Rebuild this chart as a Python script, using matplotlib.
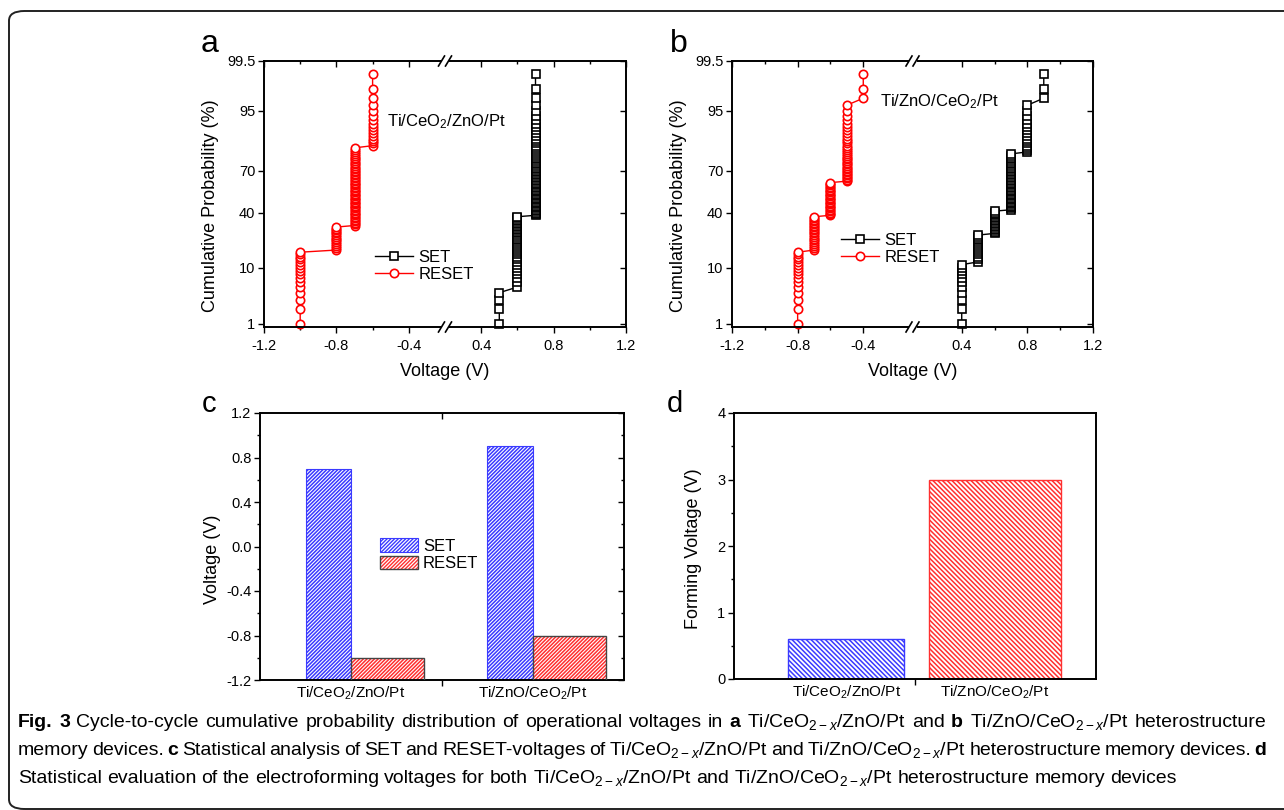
import math
import numpy as np
import matplotlib
matplotlib.use("Agg")
import matplotlib.pyplot as plt
from matplotlib import font_manager
from matplotlib.patches import Rectangle, Patch, FancyBboxPatch
from matplotlib.lines import Line2D
from matplotlib.ticker import FixedLocator, NullLocator

W, H = 1284, 810

# ---- data -------------------------------------------------------------
# panel a: voltage levels and number of cycles switching at that level
a_set_v = [0.5, 0.6, 0.7]
a_set_n = [4, 33, 62]
a_reset_v = [-1.0, -0.8, -0.7, -0.6]
a_reset_n = [16, 14, 53, 16]
# panel b
b_set_v = [0.4, 0.5, 0.6, 0.7, 0.8, 0.9]
b_set_n = [11, 14, 16, 39, 16, 3]
b_reset_v = [-0.8, -0.7, -0.6, -0.5, -0.4]
b_reset_n = [16, 21, 25, 34, 3]
# panels c, d
devices = ['Ti/CeO$_2$/ZnO/Pt', 'Ti/ZnO/CeO$_2$/Pt']
set_voltage = [0.7, 0.9]
reset_voltage = [-1.0, -0.8]
forming_voltage = [0.6, 3.0]

prob_ticks = [1, 10, 40, 70, 95, 99.5]
volt_ticks = [-1.2, -0.8, -0.4, 0.4, 0.8, 1.2]

BLUE = '#3a3aff'
RED = '#ff3030'

plt.rcParams['font.family'] = ['Liberation Sans', 'DejaVu Sans']
plt.rcParams['mathtext.fontset'] = 'custom'
plt.rcParams['mathtext.rm'] = 'Liberation Sans'
plt.rcParams['mathtext.it'] = 'Liberation Sans:italic'
plt.rcParams['mathtext.bf'] = 'Liberation Sans:bold'
plt.rcParams['axes.unicode_minus'] = False

names = {f.name for f in font_manager.fontManager.ttflist}
cap_font = 'Liberation Sans Narrow' if 'Liberation Sans Narrow' in names else 'Liberation Sans'


# ---- probability (probit) scale ----------------------------------------
A = [-3.969683028665376e+01, 2.209460984245205e+02, -2.759285104469687e+02,
     1.383577518672690e+02, -3.066479806614716e+01, 2.506628277459239e+00]
B = [-5.447609879822406e+01, 1.615858368580409e+02, -1.556989798598866e+02,
     6.680131188771972e+01, -1.328068155288572e+01]
C = [-7.784894002430293e-03, -3.223964580411365e-01, -2.400758277161838e+00,
     -2.549732539343734e+00, 4.374664141464968e+00, 2.938163982698783e+00]
D = [7.784695709041462e-03, 3.224671290700398e-01, 2.445134137142996e+00,
     3.754408661907416e+00]


def _ppf(p):
    p = np.asarray(p, float)
    q = np.where(p < 0.5, p, 1 - p)
    qc = p - 0.5
    r = qc * qc
    central = ((((((A[0]*r + A[1])*r + A[2])*r + A[3])*r + A[4])*r + A[5]) * qc /
               (((((B[0]*r + B[1])*r + B[2])*r + B[3])*r + B[4])*r + 1))
    t = np.sqrt(-2 * np.log(q))
    tail = ((((((C[0]*t + C[1])*t + C[2])*t + C[3])*t + C[4])*t + C[5]) /
            ((((D[0]*t + D[1])*t + D[2])*t + D[3])*t + 1))
    tail = np.where(p < 0.5, tail, -tail)
    return np.where(q < 0.02425, tail, central)


_erf = np.vectorize(math.erf, otypes=[float])


def prob_fwd(y):
    p = np.clip(np.asarray(y, float) / 100.0, 1e-9, 1 - 1e-9)
    return _ppf(p)


def prob_inv(z):
    return 50.0 * (1.0 + _erf(np.asarray(z, float) / math.sqrt(2)))


# broken voltage axis: -1.2..-g | g..1.2, break drawn at position 0
def broken(g):
    def fwd(v):
        v = np.asarray(v, float)
        return np.where(v < 0, v + g, v - g)

    def inv(x):
        x = np.asarray(x, float)
        return np.where(x < 0, x - g, x + g)
    return fwd, inv


def cumulative(levels, counts):
    v = np.repeat(levels, counts)
    p = 100.0 * np.arange(1, len(v) + 1) / (len(v) + 1)
    return v, p


def px_rect(l, t, r, b):
    return [l / W, 1 - b / H, (r - l) / W, (b - t) / H]


def base_style(ax):
    for s in ax.spines.values():
        s.set_linewidth(1.4)
    ax.tick_params(which='major', direction='out', length=4.2, width=1.0,
                   labelsize=10.5, pad=2)
    ax.tick_params(which='minor', direction='out', length=2.5, width=1.0)
    ax.tick_params(axis='x', which='major', pad=4.5)


def hide_spines(ax):
    for s in ax.spines.values():
        s.set_visible(False)


def break_marks(ax):
    bb = ax.get_position()
    wpx, hpx = bb.width * W, bb.height * H
    for yf in (0.0, 1.0):
        ax.add_patch(Rectangle((0.5 - 4 / wpx, yf - 3 / hpx), 8 / wpx, 6 / hpx,
                               transform=ax.transAxes, facecolor='white',
                               edgecolor='none', clip_on=False, zorder=5))
        for off in (-3.5, 3.5):
            ax.add_line(Line2D([0.5 + (off - 3) / wpx, 0.5 + (off + 3) / wpx],
                               [yf - 5 / hpx, yf + 5 / hpx], transform=ax.transAxes,
                               color='k', lw=1.2, clip_on=False, zorder=6))


fig = plt.figure(figsize=(W / 100, H / 100), dpi=100)


def cum_panel(rect, gap, sv, sn, rv, rn, label, lab_xy, leg_xy):
    funcs = broken(gap)
    ax = fig.add_axes(rect)
    base_style(ax)
    ax.set_xscale('function', functions=funcs)
    ax.set_yscale('function', functions=(prob_fwd, prob_inv))
    x, p = cumulative(sv, sn)
    ax.plot(x, p, '-s', color='k', mfc='white', mec='k', ms=5.4, mew=1.2, lw=1.0,
            label='SET', clip_on=False)
    x, p = cumulative(rv, rn)
    ax.plot(x, p, '-o', color='#ff0000', mfc='white', mec='#ff0000', ms=6.0, mew=1.2,
            lw=1.0, label='RESET', clip_on=False)
    ax.set_xlim(-1.2, 1.2)
    ax.set_ylim(0.84, 99.5)
    ax.xaxis.set_major_locator(FixedLocator(volt_ticks))
    ax.set_xticklabels(['%.1f' % v for v in volt_ticks])
    ax.xaxis.set_minor_locator(FixedLocator([-1.0, -0.6, 0.6, 1.0]))
    ax.yaxis.set_major_locator(FixedLocator(prob_ticks))
    ax.set_yticklabels(['%g' % v for v in prob_ticks])
    ax.yaxis.set_minor_locator(NullLocator())
    ax.set_xlabel('Voltage (V)', fontsize=13)
    ax.set_ylabel('Cumulative Probability (%)', fontsize=13)
    ax.yaxis.set_label_coords(-0.125, 0.455)
    ax.xaxis.set_label_coords(0.5, -0.135)
    ax.text(lab_xy[0], lab_xy[1], label, transform=ax.transAxes, fontsize=12,
            va='baseline')
    ax.legend(loc='upper left', bbox_to_anchor=leg_xy, frameon=False, fontsize=12,
              handlelength=2.3, handletextpad=0.3, labelspacing=0.12,
              borderpad=0, borderaxespad=0)
    # inward ticks on right and top
    ar = ax.twinx()
    ar.set_yscale('function', functions=(prob_fwd, prob_inv))
    ar.set_ylim(0.84, 99.5)
    ar.yaxis.set_major_locator(FixedLocator(prob_ticks))
    ar.yaxis.set_minor_locator(NullLocator())
    ar.tick_params(axis='y', direction='in', length=4.2, width=1.0, labelright=False)
    hide_spines(ar)
    at = ax.twiny()
    at.set_xscale('function', functions=funcs)
    at.set_xlim(-1.2, 1.2)
    at.xaxis.set_major_locator(FixedLocator(volt_ticks))
    at.xaxis.set_minor_locator(FixedLocator([-1.0, -0.6, 0.6, 1.0]))
    at.tick_params(axis='x', which='major', direction='in', length=4.2, width=1.0,
                   labeltop=False)
    at.tick_params(axis='x', which='minor', direction='in', length=2.5, width=1.0)
    hide_spines(at)
    break_marks(ax)
    return ax


cum_panel(px_rect(264, 61, 626, 327), 0.2, a_set_v, a_set_n, a_reset_v, a_reset_n,
          'Ti/CeO$_2$/ZnO/Pt', (0.339, 0.756), (0.307, 0.29))
cum_panel(px_rect(732, 61, 1093, 327), 0.1, b_set_v, b_set_n, b_reset_v, b_reset_n,
          'Ti/ZnO/CeO$_2$/Pt', (0.41, 0.831), (0.302, 0.355))

# ---- panel c ----------------------------------------------------------
C_HATCH = '/' * 9
D_HATCH = '\\' * 7
axc = fig.add_axes(px_rect(260, 413, 624, 680))
base_style(axc)
pos = np.arange(1, len(devices) + 1)
ymin = -1.2
with plt.rc_context({'hatch.linewidth': 1.1}):
    axc.bar(pos - 0.125, np.array(set_voltage) - ymin, width=0.25, bottom=ymin,
            facecolor='white', edgecolor=BLUE, hatch=C_HATCH, lw=0.8, zorder=2)
    axc.bar(pos + 0.2, np.array(reset_voltage) - ymin, width=0.4, bottom=ymin,
            facecolor='white', edgecolor=RED, hatch=C_HATCH, lw=0, zorder=2)
    h_set = Patch(facecolor='white', edgecolor=BLUE, hatch=C_HATCH, lw=0.8)
    h_reset = (Patch(facecolor='white', edgecolor=RED, hatch=C_HATCH, lw=0),
               Patch(fill=False, edgecolor='#444444', lw=1.0))
axc.bar(pos + 0.2, np.array(reset_voltage) - ymin, width=0.4, bottom=ymin,
        fill=False, edgecolor='#444444', lw=1.0, zorder=3)
axc.set_xlim(0.5, 2.5)
axc.set_ylim(-1.2, 1.2)
cy = np.arange(-1.2, 1.21, 0.4)
axc.set_yticks(cy)
axc.set_yticklabels(['%.1f' % v for v in cy])
axc.yaxis.set_minor_locator(FixedLocator(np.arange(-1.0, 1.1, 0.4)))
axc.set_xticks([1.5])
axc.set_xticklabels([''])
axc.set_xticks(pos, minor=True)
axc.set_xticklabels(devices, minor=True, fontsize=11)
axc.tick_params(axis='x', which='minor', length=0, pad=3)
axc.set_ylabel('Voltage (V)', fontsize=13)
axc.yaxis.set_label_coords(-0.108, 0.453)
axc.legend([h_set, h_reset], ['SET', 'RESET'], loc='upper left',
           bbox_to_anchor=(0.33, 0.53), frameon=False, fontsize=12,
           handlelength=2.26, handleheight=0.84, handletextpad=0.3,
           labelspacing=0.12, borderpad=0, borderaxespad=0)
cr = axc.twinx()
cr.set_ylim(-1.2, 1.2)
cr.set_yticks(cy)
cr.yaxis.set_minor_locator(FixedLocator(np.arange(-1.0, 1.1, 0.4)))
cr.tick_params(axis='y', which='both', direction='in', width=1.0, labelright=False)
cr.tick_params(axis='y', which='major', length=4.2)
cr.tick_params(axis='y', which='minor', length=2.5)
hide_spines(cr)
ct = axc.twiny()
ct.set_xlim(0.5, 2.5)
ct.set_xticks([1.5])
ct.tick_params(axis='x', direction='in', length=4.2, width=1.0, labeltop=False)
hide_spines(ct)

# ---- panel d ----------------------------------------------------------
axd = fig.add_axes(px_rect(734, 413, 1096, 679))
base_style(axd)
dpos = [1.12, 1.94]
dwid = [0.64, 0.73]
with plt.rc_context({'hatch.linewidth': 1.1}):
    axd.bar(dpos, forming_voltage, width=dwid, facecolor='white',
            edgecolor=[BLUE, RED], hatch=D_HATCH, lw=1.0, zorder=2)
axd.set_xlim(0.5, 2.5)
axd.set_ylim(0, 4)
axd.set_yticks(range(0, 5))
axd.yaxis.set_minor_locator(FixedLocator(np.arange(0.5, 4, 1.0)))
axd.set_xticks([1.5])
axd.set_xticklabels([''])
axd.set_xticks(dpos, minor=True)
axd.set_xticklabels(devices, minor=True, fontsize=11)
axd.tick_params(axis='x', which='minor', length=0, pad=3)
axd.set_ylabel('Forming Voltage (V)', fontsize=13)
axd.yaxis.set_label_coords(-0.089, 0.49)

# ---- panel letters ------------------------------------------------------
for s, x, y, fs in [('a', 201, 51.7, 23), ('b', 670, 51.7, 23),
                    ('c', 202, 411.7, 21), ('d', 667, 411.7, 21)]:
    fig.text(x / W, 1 - y / H, s, fontsize=fs, va='baseline')

# ---- frame --------------------------------------------------------------
frame = FancyBboxPatch((9 / W, 1 - 809 / H), 1320 / W, 798 / H,
                       boxstyle='round,pad=0,rounding_size=0.012',
                       transform=fig.transFigure, facecolor='none',
                       edgecolor='#222222', lw=1.4, clip_on=False)
fig.patches.append(frame)

# ---- caption ------------------------------------------------------------
TCZ = 'Ti/CeO$_{2-x}$/ZnO/Pt'
TZC = 'Ti/ZnO/CeO$_{2-x}$/Pt'
caption = [
    [('Fig. 3', 'bold'),
     ('Cycle-to-cycle cumulative probability distribution of operational voltages in', 'normal'),
     ('a', 'bold'), (TCZ + ' and', 'normal'), ('b', 'bold'),
     (TZC + ' heterostructure', 'normal')],
    [('memory devices.', 'normal'), ('c', 'bold'),
     ('Statistical analysis of SET and RESET-voltages of ' + TCZ + ' and ' + TZC +
      ' heterostructure memory devices.', 'normal'), ('d', 'bold')],
    [('Statistical evaluation of the electroforming voltages for both ' + TCZ +
      ' and ' + TZC + ' heterostructure memory devices', 'normal')],
]
cap_size = 14
renderer = fig.canvas.get_renderer()
x0, x1 = 18, 1266
space = 0.26 * cap_size * 100 / 72
for li, line in enumerate(caption):
    yb = 1 - (727 + 28 * li) / H
    words = [(w, wt) for seg, wt in line for w in seg.split(' ')]
    objs = [fig.text(0, yb, w, fontsize=cap_size, fontweight=wt, family=cap_font,
                     va='baseline') for w, wt in words]
    widths = [t.get_window_extent(renderer=renderer).width for t in objs]
    if li < 2:
        gap = max(space * 0.7, (x1 - x0 - sum(widths)) / (len(objs) - 1))
    else:
        gap = space
    x = x0
    for t, w in zip(objs, widths):
        t.set_x(x / W)
        x += w + gap

fig.savefig('out.png', dpi=100, facecolor='white')
